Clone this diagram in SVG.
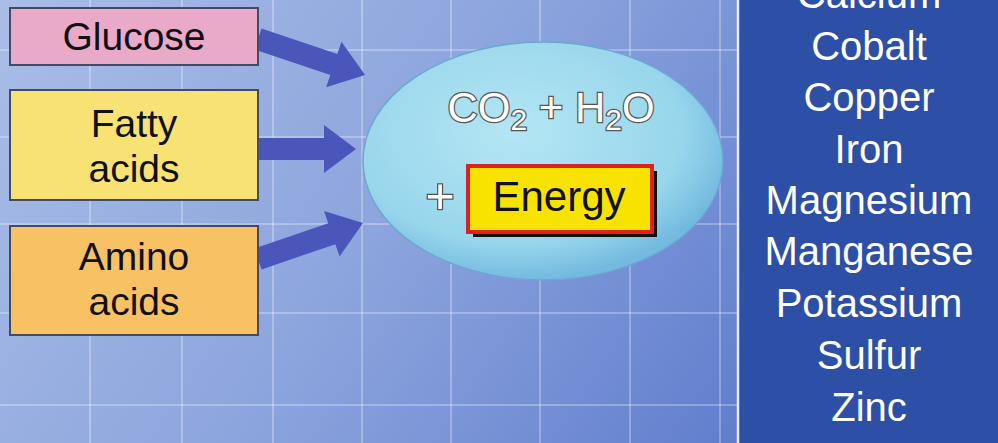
<svg xmlns="http://www.w3.org/2000/svg" width="998" height="443" viewBox="0 0 998 443">
<defs>
<linearGradient id="bg" x1="0" y1="0" x2="1" y2="0.3">
<stop offset="0" stop-color="#a9bde7"/>
<stop offset="0.5" stop-color="#8ca4dd"/>
<stop offset="1" stop-color="#5c7acc"/>
</linearGradient>
<radialGradient id="ell" cx="0.42" cy="0.38" r="0.62">
<stop offset="0" stop-color="#b4e6f4"/>
<stop offset="0.75" stop-color="#98d6ec"/>
<stop offset="1" stop-color="#74badf"/>
</radialGradient>
<style>
.grid line{stroke:#ffffff;stroke-opacity:0.28;stroke-width:2}
.box{stroke:#444a66;stroke-width:2}
.lbl{font-family:"Liberation Sans",Arial,sans-serif;font-size:39px;fill:#111111;text-anchor:middle}
.arrow{fill:#4a56ba}
.chem{font-family:"Liberation Sans",Arial,sans-serif;font-size:42px;fill:#ffffff;stroke:#555555;stroke-width:2.5;paint-order:stroke;text-anchor:middle}
.list{font-family:"Liberation Sans",Arial,sans-serif;font-size:40px;fill:#ffffff;text-anchor:middle}
</style>
</defs>
<rect width="998" height="443" fill="url(#bg)"/>
<g class="grid">
<line x1="90" y1="0" x2="90" y2="443"/>
<line x1="182" y1="0" x2="182" y2="443"/>
<line x1="273" y1="0" x2="273" y2="443"/>
<line x1="362" y1="0" x2="362" y2="443"/>
<line x1="451" y1="0" x2="451" y2="443"/>
<line x1="540" y1="0" x2="540" y2="443"/>
<line x1="630" y1="0" x2="630" y2="443"/>
<line x1="720" y1="0" x2="720" y2="443"/>
<line x1="0" y1="50" x2="738" y2="50"/>
<line x1="0" y1="137" x2="738" y2="137"/>
<line x1="0" y1="224" x2="738" y2="224"/>
<line x1="0" y1="313" x2="738" y2="313"/>
<line x1="0" y1="405" x2="738" y2="405"/>
</g>
<g id="minerals">
<rect x="738" y="0" width="260" height="443" fill="#2d4fa6"/>
<line x1="738" y1="0" x2="738" y2="443" stroke="#e8eeff" stroke-width="2.5"/>
<text class="list" x="869" y="8">Calcium</text>
<text class="list" x="869" y="60">Cobalt</text>
<text class="list" x="869" y="111">Copper</text>
<text class="list" x="869" y="163">Iron</text>
<text class="list" x="869" y="214">Magnesium</text>
<text class="list" x="869" y="265">Manganese</text>
<text class="list" x="869" y="317">Potassium</text>
<text class="list" x="869" y="369">Sulfur</text>
<text class="list" x="869" y="421">Zinc</text>
</g>
<g id="connectors">
<polygon class="arrow" transform="translate(258,39) rotate(18.6)" points="0,-11 80,-11 80,-24 113,0 80,24 80,11 0,11"/>
<polygon class="arrow" transform="translate(258,149)" points="0,-11 66,-11 66,-24 98,0 66,24 66,11 0,11"/>
<polygon class="arrow" transform="translate(258,259) rotate(-18.9)" points="0,-11 78,-11 78,-24 111,0 78,24 78,11 0,11"/>
</g>
<g id="glucose">
<rect class="box" x="10" y="8" width="248" height="57" fill="#e9a9c9"/>
<text class="lbl" x="134" y="50">Glucose</text>
</g>
<g id="fatty">
<rect class="box" x="10" y="90" width="248" height="110" fill="#f8e274"/>
<text class="lbl" x="134" y="137">Fatty</text>
<text class="lbl" x="134" y="182">acids</text>
</g>
<g id="amino">
<rect class="box" x="10" y="226" width="248" height="109" fill="#f8c264"/>
<text class="lbl" x="134" y="270">Amino</text>
<text class="lbl" x="134" y="315">acids</text>
</g>
<g id="products">
<ellipse cx="543" cy="161" rx="180" ry="119" fill="url(#ell)" stroke="#6aa8d4" stroke-width="1.5"/>
<text class="chem" x="551" y="122">CO<tspan font-size="30" dy="8">2</tspan><tspan dy="-8"> + H</tspan><tspan font-size="30" dy="8">2</tspan><tspan dy="-8">O</tspan></text>
<text class="chem" x="440" y="213" style="font-size:50px">+</text>
<rect x="473" y="171" width="184" height="66" fill="#111111"/>
<rect x="468" y="166" width="184" height="66" fill="#f7e200" stroke="#e02020" stroke-width="4"/>
<text x="559" y="211" font-family="'Liberation Sans',Arial,sans-serif" font-size="42" fill="#111111" text-anchor="middle">Energy</text>
</g>
</svg>
